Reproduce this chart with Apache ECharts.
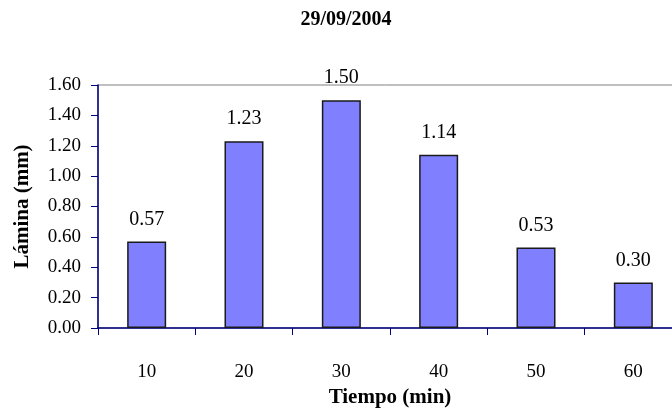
<!DOCTYPE html>
<html>
<head>
<meta charset="utf-8">
<script src="https://cdn.jsdelivr.net/npm/echarts@6/dist/echarts.min.js"></script>
<style>
  html, body { margin: 0; padding: 0; background: #fff; }
  #chart { width: 672px; height: 412px; }
</style>
</head>
<body>
<div id="chart"></div>
<script>
// Infiltration depth per time step, 29/09/2004
const categories = ['10', '20', '30', '40', '50', '60'];
const laminaValues = [0.57, 1.23, 1.50, 1.14, 0.53, 0.30];
const yTicks = { min: 0, max: 1.6, step: 0.2 };

const FONT = '"Liberation Serif", "Times New Roman", serif';
const AXIS_BLUE = '#000080';

const chart = echarts.init(document.getElementById('chart'));
chart.setOption({
  animation: false,
  title: {
    text: '29/09/2004',
    left: 341,
    top: 5,
    textAlign: 'center',
    textStyle: { fontFamily: FONT, fontSize: 20, fontWeight: 'bold', color: '#000' }
  },
  grid: {
    left: 98,
    top: 85,
    right: -10,
    bottom: 84,
    show: true,
    borderColor: '#808080',
    borderWidth: 1,
    containLabel: false,
    outerBoundsMode: 'none'
  },
  xAxis: {
    type: 'category',
    data: categories,
    name: 'Tiempo (min)',
    nameLocation: 'middle',
    nameGap: 58,
    nameTextStyle: { fontFamily: FONT, fontSize: 21, fontWeight: 'bold', color: '#000' },
    axisLine: { lineStyle: { color: AXIS_BLUE, width: 1.5 } },
    axisTick: { show: true, length: 7, alignWithLabel: false, lineStyle: { color: AXIS_BLUE } },
    axisLabel: { fontFamily: FONT, fontSize: 19, color: '#000', margin: 35 },
    splitLine: { show: false }
  },
  yAxis: {
    type: 'value',
    min: yTicks.min,
    max: yTicks.max,
    interval: yTicks.step,
    name: 'Lámina (mm)',
    nameLocation: 'middle',
    nameRotate: 90,
    nameGap: 65,
    nameTextStyle: { fontFamily: FONT, fontSize: 21, fontWeight: 'bold', color: '#000' },
    axisLine: { show: true, lineStyle: { color: AXIS_BLUE, width: 1.5 } },
    axisTick: { show: true, length: 7, lineStyle: { color: AXIS_BLUE } },
    axisLabel: {
      fontFamily: FONT, fontSize: 19, color: '#000', margin: 17,
      formatter: v => v.toFixed(2)
    },
    splitLine: { show: false }
  },
  series: [{
    type: 'bar',
    data: laminaValues,
    barWidth: 39,
    itemStyle: { color: '#8080FF', borderColor: '#1a1a1a', borderWidth: 1.5 },
    label: {
      show: true,
      position: 'top',
      distance: 12,
      fontFamily: FONT,
      fontSize: 20,
      color: '#000',
      formatter: p => p.value.toFixed(2)
    }
  }]
});
</script>
</body>
</html>
